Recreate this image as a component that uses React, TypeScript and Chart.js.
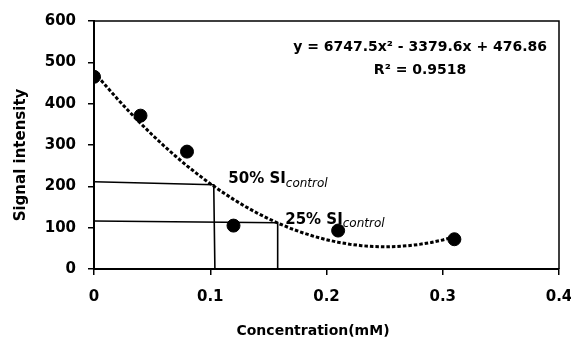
import React, { useEffect, useRef } from "react";
import { Chart, registerables } from "chart.js";

Chart.register(...registerables);

// ---- data ----
const concentrations = [0, 0.04, 0.08, 0.12, 0.21, 0.31];
const signalIntensity = [465, 371, 284, 105, 93, 72];

// polynomial trendline y = a x^2 + b x + c (coefficients as printed on the chart)
const trendCoefficients = [6747.5, -3379.6, 476.86];
const trendX = [
  0, 0.01, 0.02, 0.03, 0.04, 0.05, 0.06, 0.07, 0.08, 0.09, 0.1, 0.11, 0.12, 0.13, 0.14, 0.15,
  0.16, 0.17, 0.18, 0.19, 0.2, 0.21, 0.22, 0.23, 0.24, 0.25, 0.26, 0.27, 0.28, 0.29, 0.3, 0.31,
];

// 50% and 25% SI_control guide lines
const si50X = [0, 0.103, 0.104];
const si50Y = [211, 204, 0];
const si25X = [0, 0.158, 0.158];
const si25Y = [116, 112, 0];

const xTickValues = [0, 0.1, 0.2, 0.3, 0.4];
const yTickValues = [0, 100, 200, 300, 400, 500, 600];

const equationText = "y = 6747.5x² - 3379.6x + 476.86";
const r2Text = "R² = 0.9518";
const xTitle = "Concentration(mM)";
const yTitle = "Signal intensity";

const FONT = "'DejaVu Sans', sans-serif";

function pts(xs: number[], ys: number[]) {
  return xs.map((x, i) => ({ x, y: ys[i] }));
}

const annotationPlugin = {
  id: "annotations",
  afterDatasetsDraw(chart: any) {
    const { ctx, chartArea, scales } = chart;
    const xs = scales.x;
    const ys = scales.y;
    ctx.save();
    // plot border (top & right)
    ctx.strokeStyle = "#000";
    ctx.lineWidth = 1.5;
    ctx.beginPath();
    ctx.moveTo(chartArea.left, chartArea.top);
    ctx.lineTo(chartArea.right, chartArea.top);
    ctx.lineTo(chartArea.right, chartArea.bottom);
    ctx.stroke();

    ctx.fillStyle = "#000";
    // equation
    ctx.textAlign = "center";
    ctx.textBaseline = "alphabetic";
    ctx.font = `bold 14px ${FONT}`;
    const eqX = xs.getPixelForValue(0.2805);
    ctx.fillText(equationText, eqX, ys.getPixelForValue(527));
    ctx.fillText(r2Text, eqX, ys.getPixelForValue(472));

    // SI labels
    const drawLabel = (vx: number, vy: number, main: string, sub: string) => {
      const px = xs.getPixelForValue(vx);
      const py = ys.getPixelForValue(vy);
      ctx.textAlign = "left";
      ctx.font = `bold 15px ${FONT}`;
      ctx.fillText(main, px, py);
      const w = ctx.measureText(main).width;
      ctx.font = `italic 12px ${FONT}`;
      ctx.fillText(sub, px + w, py + 3.5);
    };
    drawLabel(0.1155, 207, "50% SI", "control");
    drawLabel(0.1645, 109, "25% SI", "control");

    // axis titles
    ctx.font = `bold 14px ${FONT}`;
    ctx.textAlign = "center";
    ctx.fillText(xTitle, 313, 335);
    ctx.font = `bold 15px ${FONT}`;
    ctx.save();
    ctx.translate(25, 155);
    ctx.rotate(-Math.PI / 2);
    ctx.fillText(yTitle, 0, 0);
    ctx.restore();
    ctx.restore();
  },
};

export default function App() {
  const canvasRef = useRef<HTMLCanvasElement | null>(null);

  useEffect(() => {
    if (!canvasRef.current) return;
    const [a, b, c] = trendCoefficients;
    const trendY = trendX.map((x) => a * x * x + b * x + c);

    const chart = new Chart(canvasRef.current, {
      type: "scatter",
      data: {
        datasets: [
          {
            label: "points",
            data: pts(concentrations, signalIntensity),
            backgroundColor: "#000",
            borderColor: "#000",
            pointRadius: 6.5,
            pointHoverRadius: 6.5,
            showLine: false,
            order: 0,
          },
          {
            label: "trend",
            data: pts(trendX, trendY),
            borderColor: "#000",
            borderWidth: 3,
            borderDash: [3.5, 2],
            pointRadius: 0,
            showLine: true,
            order: 1,
          },
          {
            label: "50%",
            data: pts(si50X, si50Y),
            borderColor: "#000",
            borderWidth: 1.6,
            pointRadius: 0,
            showLine: true,
            order: 2,
          },
          {
            label: "25%",
            data: pts(si25X, si25Y),
            borderColor: "#000",
            borderWidth: 1.6,
            pointRadius: 0,
            showLine: true,
            order: 2,
          },
        ],
      },
      options: {
        responsive: false,
        animation: false,
        devicePixelRatio: 1,
        layout: { padding: { left: 0, right: 12, top: 21, bottom: 0 } },
        plugins: {
          legend: { display: false },
          tooltip: { enabled: false },
        },
        scales: {
          x: {
            type: "linear",
            min: 0,
            max: 0.4,
            afterFit: (s: any) => {
              s.height = 69;
              s.paddingRight = 0;
              s.paddingLeft = 0;
            },
            afterBuildTicks: (s: any) => {
              s.ticks = xTickValues.map((v) => ({ value: v }));
            },
            ticks: {
              color: "#000",
              font: { family: FONT, size: 15, weight: "bold" },
              padding: 13,
              maxRotation: 0,
              callback: (v: any) => (v === 0 ? "0" : Number(v).toFixed(1)),
            },
            grid: {
              display: true,
              drawOnChartArea: false,
              drawTicks: true,
              tickLength: 6,
              color: "#000",
              lineWidth: 1.5,
            },
            border: { display: true, color: "#000", width: 2 },
          },
          y: {
            type: "linear",
            min: 0,
            max: 600,
            afterFit: (s: any) => {
              s.width = 94;
            },
            afterBuildTicks: (s: any) => {
              s.ticks = yTickValues.map((v) => ({ value: v }));
            },
            ticks: {
              color: "#000",
              font: { family: FONT, size: 15, weight: "bold" },
              padding: 12,
              callback: (v: any) => String(v),
            },
            grid: {
              display: true,
              drawOnChartArea: false,
              drawTicks: true,
              tickLength: 6,
              color: "#000",
              lineWidth: 1.5,
            },
            border: { display: true, color: "#000", width: 2 },
          },
        },
      },
      plugins: [annotationPlugin],
    });
    return () => chart.destroy();
  }, []);

  return (
    <div style={{ position: "fixed", left: 0, top: 0, width: 571, height: 338, background: "#fff" }}>
      <canvas ref={canvasRef} width={571} height={338} style={{ width: 571, height: 338 }} />
    </div>
  );
}
